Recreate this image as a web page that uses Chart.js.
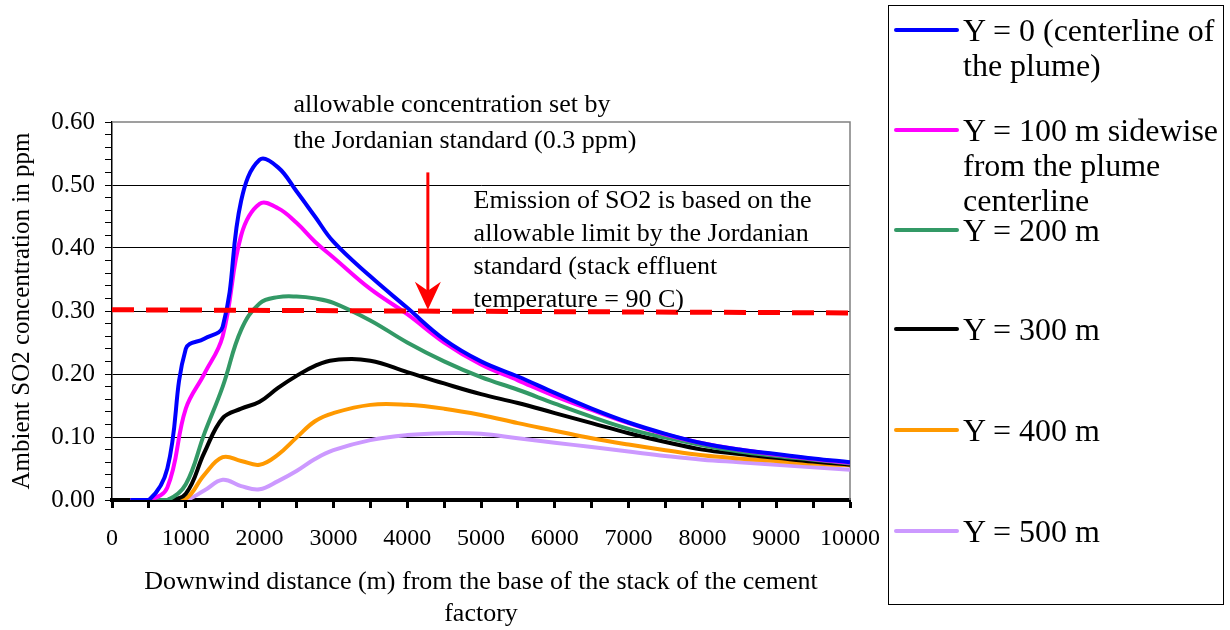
<!DOCTYPE html>
<html>
<head>
<meta charset="utf-8">
<script src="https://cdn.jsdelivr.net/npm/chart.js@4.4.1/dist/chart.umd.min.js"></script>
<style>
  body { margin: 0; background: #fff; }
  #wrap { position: relative; width: 1230px; height: 630px; }
  #chart { position: absolute; left: 0; top: 0; }
  #legend {
    position: absolute; left: 888px; top: 5px; width: 336px; height: 600px;
    border: 1px solid #000; box-sizing: border-box;
    font-family: 'Liberation Serif', 'Times New Roman', serif; color: #000;
  }
  .entry { position: absolute; left: 0; }
  .entry .swatch { position: absolute; left: 5px; width: 65px; height: 4px; border-radius: 2px; }
  .entry .label { position: absolute; left: 74px; white-space: nowrap; font-size: 32px; line-height: 35px; }
</style>
</head>
<body>
<div id="wrap">
  <canvas id="chart" width="1230" height="630"></canvas>
  <div id="legend"></div>
</div>
<script>
// Downwind distance (m)
const distance = [250, 500, 750, 1000, 1250, 1500, 1750, 2000, 2250, 2500, 2750, 3000, 3500,
  4000, 4500, 5000, 5500, 6000, 6500, 7000, 7500, 8000, 8500, 9000, 9500, 10000];

// SO2 concentration (ppm) for each sidewise offset
const y0 = [0, 0, 0.05, 0.24, 0.256, 0.275, 0.475, 0.54, 0.528, 0.49, 0.45, 0.41, 0.355,
  0.305, 0.255, 0.22, 0.196, 0.17, 0.145, 0.123, 0.105, 0.09, 0.08, 0.073, 0.066, 0.06];
const y100 = [0, 0, 0.02, 0.145, 0.2, 0.26, 0.42, 0.47, 0.463, 0.44, 0.41, 0.385, 0.335,
  0.295, 0.25, 0.215, 0.19, 0.165, 0.143, 0.122, 0.104, 0.09, 0.08, 0.072, 0.065, 0.059];
const y200 = [0, 0, 0, 0.025, 0.105, 0.18, 0.27, 0.312, 0.322, 0.323, 0.32, 0.313, 0.285,
  0.25, 0.22, 0.195, 0.175, 0.153, 0.132, 0.113, 0.099, 0.087, 0.077, 0.07, 0.064, 0.058];
const y300 = [0, 0, 0, 0.01, 0.075, 0.13, 0.145, 0.156, 0.178, 0.197, 0.213, 0.222, 0.221,
  0.203, 0.185, 0.168, 0.154, 0.138, 0.122, 0.106, 0.092, 0.08, 0.073, 0.067, 0.061, 0.056];
const y400 = [0, 0, 0, 0.002, 0.04, 0.068, 0.062, 0.056, 0.072, 0.099, 0.125, 0.138, 0.151,
  0.151, 0.145, 0.135, 0.122, 0.11, 0.098, 0.088, 0.079, 0.071, 0.066, 0.062, 0.058, 0.055];
const y500 = [0, 0, 0, 0, 0.015, 0.032, 0.022, 0.017, 0.03, 0.046, 0.065, 0.079, 0.095,
  0.103, 0.106, 0.105, 0.098, 0.091, 0.084, 0.077, 0.07, 0.064, 0.06, 0.056, 0.052, 0.048];

// Allowable limit line (Jordanian standard)
const limitX = [0, 10000];
const limitY = [0.302, 0.297];

// Arrow pointing at the limit
const arrowX = 4280;
const arrowFrom = 0.52;
const arrowTo = 0.302;

const seriesLabels = [
  ['Y = 0 (centerline of', 'the plume)'],
  ['Y = 100 m sidewise', 'from the plume', 'centerline'],
  ['Y = 200 m'],
  ['Y = 300 m'],
  ['Y = 400 m'],
  ['Y = 500 m']
];
const seriesColors = ['#0000FF', '#FF00FF', '#339966', '#000000', '#FF9900', '#CC99FF'];
const seriesData = [y0, y100, y200, y300, y400, y500];

const note1 = ['allowable concentration set by', 'the Jordanian standard (0.3 ppm)'];
const note2 = ['Emission of SO2 is based on the', 'allowable limit by the Jordanian',
  'standard (stack effluent', 'temperature = 90 C)'];

const serif = "'Liberation Serif', 'Times New Roman', serif";

const toPoints = (xs, ys) => xs.map((x, i) => ({ x: x, y: ys[i] }));

const datasets = [{
  label: 'limit',
  data: toPoints(limitX, limitY),
  borderColor: '#FF0000',
  borderWidth: 5,
  borderDash: [22, 12],
  pointRadius: 0,
  tension: 0
}];
seriesData.forEach((vals, i) => {
  datasets.push({
    label: seriesLabels[i].join(' '),
    data: toPoints(distance, vals),
    borderColor: seriesColors[i],
    borderWidth: 4,
    pointRadius: 0,
    tension: 0.4
  });
});

// grey frame on top and right of plot area
const framePlugin = {
  id: 'frame',
  beforeDatasetsDraw(chart) {
    const { ctx, chartArea: a } = chart;
    ctx.save();
    ctx.strokeStyle = '#808080';
    ctx.lineWidth = 1.5;
    ctx.beginPath();
    ctx.moveTo(a.left, a.top);
    ctx.lineTo(a.right, a.top);
    ctx.lineTo(a.right, a.bottom);
    ctx.stroke();
    ctx.restore();
  }
};

// red arrow and the two notes
const notesPlugin = {
  id: 'notes',
  afterDatasetsDraw(chart) {
    const { ctx } = chart;
    const xs = chart.scales.x, ys = chart.scales.y;
    const ax = xs.getPixelForValue(arrowX);
    const top = ys.getPixelForValue(arrowFrom);
    const tip = ys.getPixelForValue(arrowTo);
    ctx.save();
    ctx.strokeStyle = '#FF0000';
    ctx.fillStyle = '#FF0000';
    ctx.lineWidth = 3;
    ctx.beginPath();
    ctx.moveTo(ax, top);
    ctx.lineTo(ax, tip - 15);
    ctx.stroke();
    ctx.beginPath();
    ctx.moveTo(ax, tip);
    ctx.lineTo(ax - 13, tip - 28);
    ctx.lineTo(ax, tip - 19);
    ctx.lineTo(ax + 13, tip - 28);
    ctx.closePath();
    ctx.fill();

    ctx.fillStyle = '#000';
    ctx.font = '26px ' + serif;
    ctx.textAlign = 'left';
    ctx.textBaseline = 'middle';
    let x1 = xs.getPixelForValue(2460), y1 = ys.getPixelForValue(0.627);
    note1.forEach((t, i) => ctx.fillText(t, x1, y1 + i * 36));
    let x2 = xs.getPixelForValue(4900), y2 = ys.getPixelForValue(0.475);
    note2.forEach((t, i) => ctx.fillText(t, x2, y2 + i * 33));
    ctx.restore();
  }
};

new Chart(document.getElementById('chart'), {
  type: 'line',
  data: { datasets: datasets },
  options: {
    responsive: false,
    animation: false,
    layout: { padding: { top: 122, right: 380, left: 0, bottom: 0 } },
    plugins: { legend: { display: false }, tooltip: { enabled: false } },
    scales: {
      x: {
        type: 'linear',
        min: 0,
        max: 10000,
        afterFit: s => { s.height = 130; },
        ticks: {
          stepSize: 500,
          maxTicksLimit: 100,
          autoSkip: false,
          maxRotation: 0,
          padding: 16,
          color: '#000',
          font: { family: serif, size: 24 },
          callback: v => (v % 1000 === 0 ? String(v) : '')
        },
        grid: { drawOnChartArea: false, drawTicks: true, tickLength: 8, tickWidth: 3, tickColor: '#000' },
        border: { color: '#000', width: 4 },
        title: {
          display: true,
          text: ['Downwind distance (m) from the base of the stack of the cement', 'factory'],
          color: '#000',
          font: { family: serif, size: 26, lineHeight: 1.23 },
          padding: { top: 0, bottom: 0 }
        }
      },
      y: {
        min: 0,
        max: 0.6,
        afterFit: s => { s.width = 112; },
        ticks: {
          stepSize: 0.02,
          maxTicksLimit: 100,
          autoSkip: false,
          padding: 10,
          color: '#000',
          font: { family: serif, size: 25 },
          callback: v => (Math.round(v * 100) % 10 === 0 ? v.toFixed(2) : '')
        },
        grid: {
          color: c => (Math.round(c.tick.value * 100) % 10 === 0 && c.tick.value > 0 && c.tick.value < 0.59 ? '#000' : 'transparent'),
          tickColor: '#000',
          tickLength: 7,
          lineWidth: 1
        },
        border: { color: '#000', width: 1.5 },
        title: {
          display: true,
          text: 'Ambient SO2 concentration in ppm',
          color: '#000',
          font: { family: serif, size: 25, lineHeight: 1.2 },
          padding: { top: 7, bottom: 0 }
        }
      }
    }
  },
  plugins: [framePlugin, notesPlugin]
});

// legend in html, entries spaced like the original
const legendRows = [24, 124, 224, 323, 424, 525];
const legend = document.getElementById('legend');
seriesLabels.forEach((lines, i) => {
  const e = document.createElement('div');
  e.className = 'entry';
  e.style.top = legendRows[i] + 'px';
  const sw = document.createElement('div');
  sw.className = 'swatch';
  sw.style.background = seriesColors[i];
  sw.style.top = '-2px';
  const lab = document.createElement('div');
  lab.className = 'label';
  lab.style.top = '-17px';
  lab.innerHTML = lines.join('<br>');
  e.appendChild(sw);
  e.appendChild(lab);
  legend.appendChild(e);
});
</script>
</body>
</html>
